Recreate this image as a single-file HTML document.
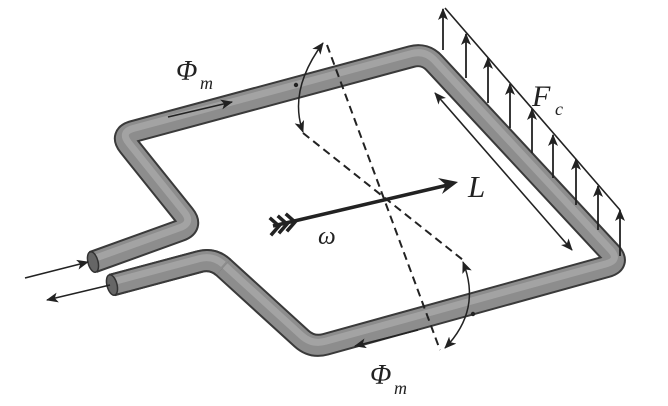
<!DOCTYPE html>
<html><head><meta charset="utf-8"><style>
html,body{margin:0;padding:0;background:#fff;width:668px;height:406px;overflow:hidden}
svg{display:block}
text{font-family:"Liberation Serif",serif;font-style:italic;fill:#222}
</style></head><body>
<svg width="668" height="406" viewBox="0 0 668 406" xmlns="http://www.w3.org/2000/svg">
<defs>
<marker id="ah" markerWidth="12" markerHeight="10" refX="11" refY="5" orient="auto" markerUnits="userSpaceOnUse"><path d="M0,0 L12,5 L0,10 L3,5 Z" fill="#222"/></marker>
<marker id="ahs" markerWidth="12" markerHeight="10" refX="11" refY="5" orient="auto-start-reverse" markerUnits="userSpaceOnUse"><path d="M0,0 L12,5 L0,10 L3,5 Z" fill="#222"/></marker>
</defs>
<g fill="none" stroke-linejoin="round" stroke-linecap="butt">
<path d="M112,285 L199.5,261.6 Q213,258 223.4,267.4 L301.6,338.6 Q312,348 325.5,344.3 L606.5,266.7 Q620,263 610.5,252.7 L434.5,63.3 Q425,53 411.5,56.6 L133.5,131.4 Q120,135 128.8,146 L184.2,215.1 Q193,226 179.8,230.7 L93,262" stroke="#3a3a3a" stroke-width="23"/>
<path d="M112,285 L199.5,261.6 Q213,258 223.4,267.4 L301.6,338.6 Q312,348 325.5,344.3 L606.5,266.7 Q620,263 610.5,252.7 L434.5,63.3 Q425,53 411.5,56.6 L133.5,131.4 Q120,135 128.8,146 L184.2,215.1 Q193,226 179.8,230.7 L93,262" stroke="#8d8d8d" stroke-width="19"/>
<path d="M112,282 L199.5,258.6 Q213,255 223.4,264.4 L301.6,335.6 Q312,345 325.5,341.3 L606.5,263.7 Q620,260 610.5,249.7 L434.5,60.3 Q425,50 411.5,53.6 L133.5,128.4 Q120,132 128.8,143 L184.2,212.1 Q193,223 179.8,227.7 L93,259" stroke="#a9a9a9" stroke-width="7" opacity="0.8"/>
<path d="M112,285 L199.5,261.6 Q213,258 223.4,267.4" stroke="#3a3a3a" stroke-width="23"/>
<path d="M112,285 L199.5,261.6 Q213,258 223.4,267.4" stroke="#8d8d8d" stroke-width="19"/>
<path d="M112,282 L199.5,258.6 Q213,255 223.4,264.4" stroke="#a9a9a9" stroke-width="7" opacity="0.8"/>
</g>
<ellipse cx="93" cy="262" rx="5" ry="10.5" transform="rotate(-15 93 262)" fill="#666" stroke="#333" stroke-width="1.5"/>
<ellipse cx="112" cy="285" rx="5" ry="10.5" transform="rotate(-15 112 285)" fill="#666" stroke="#333" stroke-width="1.5"/>
<g stroke="#222" stroke-width="1.6" fill="none">
<line x1="25" y1="278" x2="88" y2="262" marker-end="url(#ah)"/>
<line x1="110" y1="285" x2="47" y2="300" marker-end="url(#ah)"/>
<line x1="168" y1="117" x2="232" y2="102" marker-end="url(#ah)"/>
<line x1="418" y1="330" x2="355" y2="346" marker-end="url(#ah)"/>
<line x1="435" y1="93" x2="572" y2="250" marker-start="url(#ahs)" marker-end="url(#ah)"/>
<line x1="445" y1="8" x2="620" y2="210"/>
</g>
<g stroke="#222" stroke-width="1.8">
<line x1="443" y1="50" x2="443" y2="9" marker-end="url(#ah)"/>
<line x1="466" y1="78" x2="466" y2="34" marker-end="url(#ah)"/>
<line x1="488" y1="103" x2="488" y2="58" marker-end="url(#ah)"/>
<line x1="510" y1="128" x2="510" y2="84" marker-end="url(#ah)"/>
<line x1="532" y1="153" x2="532" y2="109" marker-end="url(#ah)"/>
<line x1="553" y1="178" x2="553" y2="135" marker-end="url(#ah)"/>
<line x1="576" y1="205" x2="576" y2="159" marker-end="url(#ah)"/>
<line x1="598" y1="230" x2="598" y2="186" marker-end="url(#ah)"/>
<line x1="620" y1="256" x2="620" y2="210" marker-end="url(#ah)"/>
</g>
<g stroke="#222" stroke-width="2" stroke-dasharray="8,5" fill="none">
<line x1="327" y1="45" x2="440" y2="350"/>
<line x1="303" y1="133" x2="463" y2="260"/>
</g>
<g stroke="#222" stroke-width="1.5" fill="none">
<path d="M303,132 Q288,90 323,43" marker-start="url(#ahs)" marker-end="url(#ah)"/>
<path d="M463,262 Q482,310 445,348" marker-start="url(#ahs)" marker-end="url(#ah)"/>
</g>
<circle cx="296" cy="85" r="2.2" fill="#222"/>
<circle cx="473" cy="314" r="2.2" fill="#222"/>
<line x1="273" y1="226" x2="448" y2="185" stroke="#222" stroke-width="3.5"/>
<path d="M438,178 L458,182 L442,194 L446,185 Z" fill="#222"/>
<g stroke="#222" stroke-width="3.5" fill="none" stroke-linecap="square">
<path d="M271,219 L279,226 L272,234"/>
<path d="M279,217 L287,224 L280,232"/>
<path d="M287,215 L295,222 L288,230"/>
</g>
<text x="176" y="80" font-size="28">Φ</text>
<text x="200" y="89" font-size="18">m</text>
<text x="370" y="384" font-size="28">Φ</text>
<text x="394" y="394" font-size="18">m</text>
<text x="532" y="106" font-size="30">F</text>
<text x="555" y="115" font-size="18">c</text>
<text x="468" y="197" font-size="31">L</text>
<text x="318" y="244" font-size="25">ω</text>
</svg>
</body></html>
